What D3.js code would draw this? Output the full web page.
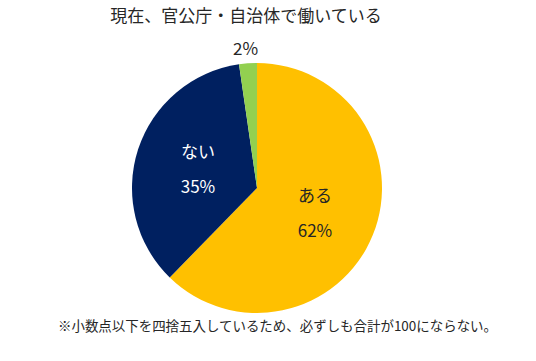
<!DOCTYPE html>
<html><head><meta charset="utf-8">
<script src="https://cdn.jsdelivr.net/npm/d3@7"></script>
<style>
html,body{margin:0;padding:0;background:#fff;}
svg{display:block;font-family:"Noto Sans CJK JP","Noto Sans",sans-serif;}
</style></head>
<body>
<svg id="chart" width="536" height="361"></svg>
<script>
const title = "現在、官公庁・自治体で働いている";
const footnote = "※小数点以下を四捨五入しているため、必ずしも合計が100にならない。";
const categories = ["ある", "ない", ""];
const values = [62.3, 35.4, 2.3];
const colors = ["#FFC000", "#002060", "#92D050"];
const labelColors = ["#262626", "#FFFFFF", "#262626"];

const svg = d3.select("#chart");
const cx = 257, cy = 188, r = 125;
const data = categories.map((c, i) => ({cat: c, value: values[i], color: colors[i], lc: labelColors[i]}));

const pie = d3.pie().sort(null).value(d => d.value);
const arcs = pie(data);
const arc = d3.arc().innerRadius(0).outerRadius(r);

const g = svg.append("g").attr("transform", `translate(${cx},${cy})`);
g.selectAll("path").data(arcs).enter().append("path")
  .attr("d", arc).attr("fill", d => d.data.color);

const fmt = v => d3.format(".0f")(v) + "%";
const labelArc = d3.arc().innerRadius(r * 0.62).outerRadius(r * 0.62);
const outerArc = d3.arc().innerRadius(r * 1.15).outerRadius(r * 1.15);

arcs.forEach((a, i) => {
  if (a.data.cat) {
    let [x, y] = labelArc.centroid(a);
    if (i === 0) { x = 58; y = 18; }
    if (i === 1) { x = -59; y = -26; }
    const t = g.append("text").attr("text-anchor", "middle").attr("fill", a.data.lc)
      .attr("font-size", 17);
    t.append("tspan").attr("x", x).attr("y", y - 12).attr("dominant-baseline", "central").text(a.data.cat);
    t.append("tspan").attr("x", x).attr("y", y + 23).attr("dominant-baseline", "central").text(fmt(a.data.value));
  } else {
    const [x, y] = outerArc.centroid(a);
    g.append("text").attr("text-anchor", "middle").attr("dominant-baseline", "central")
      .attr("fill", a.data.lc).attr("font-size", 17)
      .attr("x", x - 1).attr("y", -141).text(fmt(a.data.value));
  }
});

svg.append("text").attr("x", 246).attr("y", 14).attr("text-anchor", "middle")
  .attr("dominant-baseline", "central").attr("font-size", 17).attr("fill", "#262626").text(title);
svg.append("text").attr("x", 58).attr("y", 325).attr("text-anchor", "start")
  .attr("dominant-baseline", "central").attr("font-size", 13.5).attr("fill", "#262626")
  .attr("textLength", 439).attr("lengthAdjust", "spacingAndGlyphs").text(footnote);
</script>
</body></html>
